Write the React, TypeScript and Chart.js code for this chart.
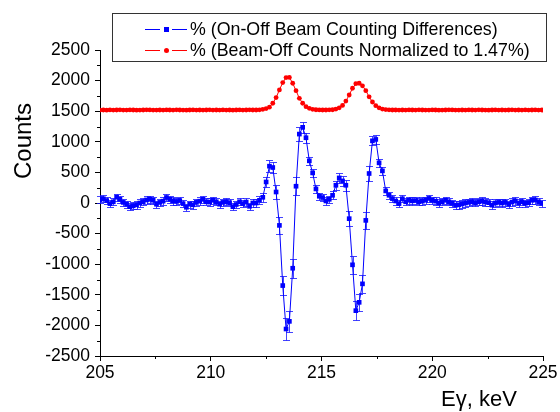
import React, { useEffect, useRef } from "react";
import { Chart, registerables } from "chart.js";

Chart.register(...registerables);

// Energy grid (keV)
const E_START = 205;
const E_STEP = 0.15;

// % (On-Off Beam Counting Differences)
const blueCounts = [
  55, 70, 40, -10, 20, 95, 60, 10, -20, -60,
  -45, -30, 0, 20, 50, 60, 45, -20, 10, 30,
  90, 60, 35, 25, 40, -10, -70, -20, -30, 10,
  30, 60, 20, 15, 45, 20, -20, 10, 20, 5,
  -60, -25, 20, -10, 16, -54, 0,
  0, 44, 93, 344, 602, 580, 180, -366, -1349, -2059,
  -1934, -1066, 274, 1126, 1236, 1066, 689, 492, 230, 110,
  89, 33, 60, 126, 290, 410, 361, 290, -256, -1010,
  -1759, -1623, -1321, -284, 482, 1016, 1039, 656, 525, 197,
  126, 72, 33,
  -10, 70, 20, 45, 35, 40, 20, 30, 45, 75,
  45, 30, 0, 20, 45, 20, -5, -35, -30, -15,
  0, 10, 20, 5, 20, 30, 15, 5, -35, 0,
  10, 0, 10, -20, 15, 35, 0, 20, -5, 5,
  45, 50, 20, -5,
];

const blueErrors = [
  60, 60, 60, 60, 60, 60, 60, 60, 60, 60,
  60, 60, 60, 60, 60, 60, 60, 60, 60, 60,
  60, 60, 60, 60, 60, 60, 60, 60, 60, 60,
  60, 60, 60, 60, 60, 60, 60, 60, 60, 60,
  60, 60, 60, 60, 60, 60, 60,
  60, 65, 70, 80, 95, 95, 110, 140, 158, 172,
  170, 158, 145, 115, 95, 80, 70, 65, 62, 60,
  60, 60, 62, 68, 75, 78, 78, 90, 123, 145,
  153, 142, 142, 142, 120, 75, 75, 70, 65, 62,
  60, 60, 60,
  60, 60, 60, 60, 60, 60, 60, 60, 60, 60,
  60, 60, 60, 60, 60, 60, 60, 60, 60, 60,
  60, 60, 60, 60, 60, 60, 60, 60, 60, 60,
  60, 60, 60, 60, 60, 60, 60, 60, 60, 60,
  60, 60, 60, 60,
];

// % (Beam-Off Counts Normalized to 1.47%)
const redCounts = [
  1518, 1520, 1517, 1521, 1519, 1520, 1522, 1518, 1519, 1521,
  1520, 1517, 1519, 1520, 1522, 1521, 1518, 1519, 1520, 1518,
  1521, 1520, 1519, 1522, 1520, 1518, 1517, 1520, 1521, 1519,
  1520, 1518, 1520, 1522, 1519, 1520, 1518, 1521, 1519, 1520,
  1517, 1520, 1521, 1519, 1520, 1522, 1520,
  1520, 1523, 1530, 1543, 1566, 1630, 1722, 1848, 1967, 2050,
  2052, 1957, 1836, 1711, 1630, 1574, 1547, 1531, 1524, 1521,
  1520, 1520, 1522,
  1524, 1535, 1555, 1595, 1665, 1765, 1875, 1950, 1957, 1915,
  1836, 1735, 1650, 1590, 1555, 1535, 1526, 1522, 1520, 1520,
  1519, 1520, 1518, 1521, 1520, 1519, 1522, 1520, 1518, 1519,
  1521, 1520, 1517, 1519, 1520, 1522, 1521, 1518, 1519, 1520,
  1518, 1521, 1520, 1519, 1522, 1520, 1518, 1517, 1520, 1521,
  1519, 1520, 1518, 1520, 1522, 1519, 1520, 1518, 1521, 1519,
  1520, 1521, 1519, 1520,
];

const xTicks = [205, 210, 215, 220, 225];
const xMinorTicks = [207.5, 212.5, 217.5, 222.5];
const yTicks = [-2500, -2000, -1500, -1000, -500, 0, 500, 1000, 1500, 2000, 2500];
const yMinorTicks = [-2250, -1750, -1250, -750, -250, 250, 750, 1250, 1750, 2250];

const legendLabels = [
  "% (On-Off Beam Counting Differences)",
  "% (Beam-Off Counts Normalized to 1.47%)",
];
const yTitle = "Counts";
const xTitle = "Eγ, keV";

const FONT = "'Liberation Sans', Arial, sans-serif";
const BLUE = "#0000ff";
const RED = "#ff0000";

const errorBarPlugin = {
  id: "errorBars",
  beforeDatasetsDraw(chart: any) {
    const ctx = chart.ctx;
    const ys = chart.scales.y;
    const meta = chart.getDatasetMeta(0);
    ctx.save();
    ctx.strokeStyle = "rgba(20,20,255,0.8)";
    ctx.lineWidth = 1;
    meta.data.forEach((pt: any, i: number) => {
      const v = blueCounts[i];
      const e = blueErrors[i];
      const x = Math.round(pt.x) + 0.5;
      const y1 = Math.round(ys.getPixelForValue(v + e)) + 0.5;
      const y2 = Math.round(ys.getPixelForValue(v - e)) + 0.5;
      ctx.beginPath();
      ctx.moveTo(x, y1);
      ctx.lineTo(x, y2);
      ctx.moveTo(x - 3.5, y1);
      ctx.lineTo(x + 3.5, y1);
      ctx.moveTo(x - 3.5, y2);
      ctx.lineTo(x + 3.5, y2);
      ctx.stroke();
    });
    ctx.restore();
  },
};

const decorPlugin = {
  id: "decor",
  afterDraw(chart: any) {
    const ctx = chart.ctx;
    const xs = chart.scales.x;
    const ys = chart.scales.y;
    const area = chart.chartArea;
    ctx.save();
    // minor ticks
    ctx.strokeStyle = "#000";
    ctx.lineWidth = 1;
    ctx.beginPath();
    yMinorTicks.forEach((v) => {
      const y = Math.round(ys.getPixelForValue(v)) + 0.5;
      ctx.moveTo(area.left - 3, y);
      ctx.lineTo(area.left, y);
    });
    xMinorTicks.forEach((v) => {
      const x = Math.round(xs.getPixelForValue(v)) + 0.5;
      ctx.moveTo(x, area.bottom);
      ctx.lineTo(x, area.bottom + 3);
    });
    ctx.stroke();

    // axis titles
    ctx.fillStyle = "#000";
    ctx.font = `24px ${FONT}`;
    ctx.textAlign = "center";
    ctx.textBaseline = "middle";
    ctx.save();
    ctx.translate(24, 141);
    ctx.rotate(-Math.PI / 2);
    ctx.fillText(yTitle, 0, 0);
    ctx.restore();

    ctx.font = `22px ${FONT}`;
    ctx.textAlign = "left";
    ctx.textBaseline = "alphabetic";
    ctx.fillText(xTitle, 441, 406);

    // legend
    const bx = 112.5, by = 13.5, bw = 434, bh = 48;
    ctx.fillStyle = "#fff";
    ctx.fillRect(bx, by, bw, bh);
    ctx.strokeStyle = "#333";
    ctx.strokeRect(bx, by, bw, bh);
    const rows = [
      { y: 29, color: BLUE, shape: "rect" },
      { y: 50, color: RED, shape: "circle" },
    ];
    rows.forEach((r, k) => {
      ctx.strokeStyle = r.color;
      ctx.lineWidth = 1;
      ctx.beginPath();
      ctx.moveTo(145, r.y + 0.5);
      ctx.lineTo(160, r.y + 0.5);
      ctx.moveTo(172, r.y + 0.5);
      ctx.lineTo(187, r.y + 0.5);
      ctx.stroke();
      ctx.fillStyle = r.color;
      if (r.shape === "rect") {
        ctx.fillRect(164, r.y - 2, 5, 5);
      } else {
        ctx.beginPath();
        ctx.arc(166.5, r.y + 0.5, 2.5, 0, Math.PI * 2);
        ctx.fill();
      }
      ctx.fillStyle = "#000";
      ctx.font = `17.8px ${FONT}`;
      ctx.textAlign = "left";
      ctx.textBaseline = "middle";
      ctx.fillText(legendLabels[k], 190, r.y + 1);
    });
    ctx.restore();
  },
};

export default function App() {
  const canvasRef = useRef<HTMLCanvasElement | null>(null);

  useEffect(() => {
    if (!canvasRef.current) return;
    const energy = (i: number) => E_START + E_STEP * i;
    const chart = new Chart(canvasRef.current, {
      type: "line",
      data: {
        datasets: [
          {
            label: legendLabels[0],
            data: blueCounts.map((v, i) => ({ x: energy(i), y: v })),
            borderColor: BLUE,
            backgroundColor: BLUE,
            borderWidth: 1,
            pointStyle: "rect",
            pointRadius: 3.3,
            pointBorderWidth: 0,
            tension: 0,
          },
          {
            label: legendLabels[1],
            data: redCounts.map((v, i) => ({ x: energy(i), y: v })),
            borderColor: RED,
            backgroundColor: RED,
            borderWidth: 1,
            pointStyle: "circle",
            pointRadius: 2.4,
            pointBorderWidth: 0,
            tension: 0,
          },
        ],
      },
      options: {
        animation: false,
        responsive: false,
        maintainAspectRatio: false,
        layout: { padding: { top: 50, right: 17, left: 0, bottom: 0 } },
        plugins: {
          legend: { display: false },
          tooltip: { enabled: false },
        },
        scales: {
          x: {
            type: "linear",
            min: 205,
            max: 225,
            afterBuildTicks: (s: any) => {
              s.ticks = xTicks.map((v) => ({ value: v }));
            },
            afterFit: (s: any) => {
              s.height = 56;
            },
            ticks: {
              autoSkip: false,
              maxRotation: 0,
              color: "#000",
              padding: 2,
              font: { family: FONT, size: 17.5 },
              callback: (v: any) => String(v),
            },
            grid: { drawOnChartArea: false, tickLength: 5, color: "#000" },
            border: { color: "#000", width: 1 },
          },
          y: {
            type: "linear",
            min: -2500,
            max: 2500,
            afterBuildTicks: (s: any) => {
              s.ticks = yTicks.map((v) => ({ value: v }));
            },
            afterFit: (s: any) => {
              s.width = 100;
            },
            ticks: {
              autoSkip: false,
              color: "#000",
              padding: 5,
              font: { family: FONT, size: 17.5 },
              callback: (v: any) => String(v),
            },
            grid: { drawOnChartArea: false, tickLength: 5, color: "#000" },
            border: { color: "#000", width: 1 },
          },
        },
      },
      plugins: [errorBarPlugin, decorPlugin],
    } as any);
    return () => chart.destroy();
  }, []);

  return (
    <div style={{ position: "fixed", left: 0, top: 0, width: 560, height: 412, background: "#fff" }}>
      <canvas ref={canvasRef} width={560} height={412} style={{ display: "block" }} />
    </div>
  );
}
